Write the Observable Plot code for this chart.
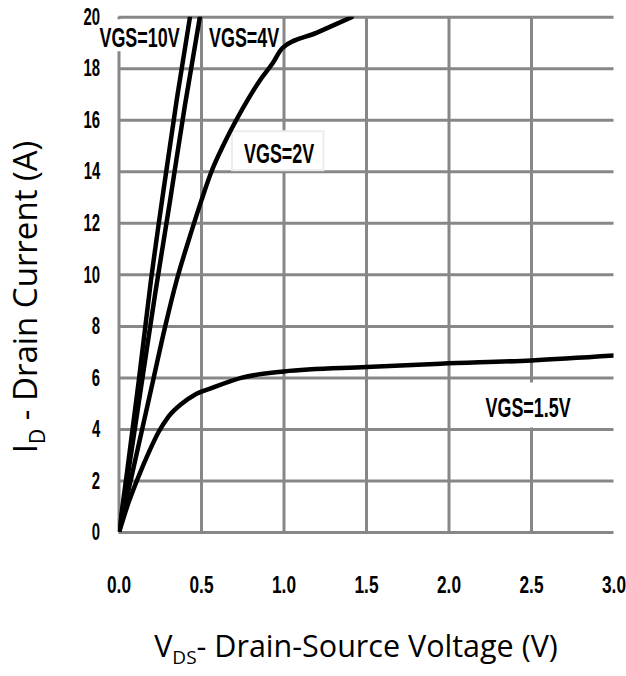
<!DOCTYPE html>
<html>
<head>
<meta charset="utf-8">
<script src="https://cdn.jsdelivr.net/npm/d3@7"></script>
<script src="https://cdn.jsdelivr.net/npm/@observablehq/plot@0.6"></script>
<style>
  html, body { margin: 0; padding: 0; background: #fff; }
  svg { display: block; }
</style>
</head>
<body>
<div id="chart"></div>
<script>
// Axis ticks
const vdsTicks = [0, 0.5, 1.0, 1.5, 2.0, 2.5, 3.0];
const idTicks = [0, 2, 4, 6, 8, 10, 12, 14, 16, 18, 20];

// Output characteristics, one pair of arrays per gate voltage (VDS in V, ID in A)
const vds10V = [0, 0.05, 0.12, 0.19, 0.27, 0.35, 0.43];
const id10V  = [0, 2.4, 5.9, 9.6, 13.3, 16.8, 20.0];

const vds4V = [0, 0.06, 0.14, 0.22, 0.31, 0.40, 0.49];
const id4V  = [0, 2.5, 5.9, 9.3, 12.9, 16.6, 20.0];

const vds2V = [0, 0.07, 0.14, 0.21, 0.28, 0.35, 0.43, 0.50, 0.56, 0.63, 0.71, 0.79, 0.86, 0.93, 0.99, 1.20, 1.41];
const id2V  = [0, 2.0, 4.0, 6.0, 8.0, 9.8, 11.5, 12.9, 14.0, 15.0, 16.0, 16.9, 17.6, 18.2, 18.8, 19.4, 20.0];

const vds15V = [0, 0.06, 0.12, 0.18, 0.24, 0.30, 0.38, 0.46, 0.56, 0.74, 1.0, 1.5, 1.95, 2.5, 3.0];
const id15V  = [0, 1.2, 2.2, 3.1, 3.9, 4.5, 5.0, 5.35, 5.6, 6.0, 6.25, 6.42, 6.55, 6.68, 6.87];

// Curve labels
const labelText = ["VGS=10V", "VGS=4V", "VGS=2V", "VGS=1.5V"];
const labelVds  = [0.124, 0.758, 0.97, 2.479];
const labelId   = [19.18, 19.18, 14.68, 4.85];

const series = [
  ["10V", vds10V, id10V],
  ["4V", vds4V, id4V],
  ["2V", vds2V, id2V],
  ["1.5V", vds15V, id15V]
];
const curves = series.flatMap(([vgs, xs, ys]) => xs.map((v, i) => ({vgs, v, i: ys[i]})));
const labels = labelText.map((t, k) => ({t, v: labelVds[k], i: labelId[k]}));

const narrowFont = "'Liberation Sans', Arial, sans-serif";

const svg = Plot.plot({
  width: 626,
  height: 676,
  marginLeft: 118.5,
  marginRight: 12.5,
  marginTop: 16.7,
  marginBottom: 144,
  style: {fontFamily: narrowFont, background: "#fff", overflow: "visible"},
  x: {domain: [0, 3]},
  y: {domain: [0, 20]},
  marks: [
    Plot.ruleY(idTicks, {stroke: "#878787", strokeWidth: 3}),
    Plot.ruleX(vdsTicks.filter(d => d < 3), {stroke: "#878787", strokeWidth: 3}),
    Plot.line(curves, {x: "v", y: "i", z: "vgs", stroke: "#000", strokeWidth: 4.5, curve: "monotone-x", clip: true}),
    Plot.text(labels, {x: "v", y: "i", text: "t", fontSize: 28, fontWeight: "bold", fill: "#000", textAnchor: "middle"}),
    Plot.axisX({ticks: vdsTicks, tickFormat: d => d.toFixed(1), tickSize: 0, tickPadding: 43, fontSize: 24, label: null}),
    Plot.axisY({ticks: idTicks, tickFormat: d => String(d), tickSize: 0, tickPadding: 19, fontSize: 24, label: null})
  ]
});

document.getElementById("chart").appendChild(svg);

// Squeeze narrow labels horizontally about their anchor point
function squeeze(t, s) {
  const b = t.getBBox();
  const anchor = getComputedStyle(t).textAnchor;
  const ax = anchor === "end" ? b.x + b.width : anchor === "middle" ? b.x + b.width / 2 : b.x;
  const prev = t.getAttribute("transform") || "";
  t.setAttribute("transform", `${prev} translate(${ax},0) scale(${s},1) translate(${-ax},0)`);
}
const xTickTexts = svg.querySelectorAll('g[aria-label="x-axis tick label"] text');
const yTickTexts = svg.querySelectorAll('g[aria-label="y-axis tick label"] text');
[...xTickTexts, ...yTickTexts].forEach(t => { t.style.fontSize = "24px"; t.style.fontWeight = "bold"; });
xTickTexts.forEach(t => squeeze(t, 0.72));
yTickTexts.forEach(t => squeeze(t, 0.62));

const labelGroup = [...svg.querySelectorAll('g[aria-label="text"]')].pop();
const labelTexts = labelGroup ? [...labelGroup.querySelectorAll("text")] : [];
labelTexts.forEach(t => squeeze(t, 0.64));

// White boxes behind the curve labels
const boxPad = {
  "VGS=10V":  {l: 2, r: 2, t: 3, b: -2, stroke: "none"},
  "VGS=4V":   {l: 2, r: 1, t: 3, b: -2, stroke: "none"},
  "VGS=2V":   {l: 12, r: 9, t: 7, b: 1, stroke: "#ececec"},
  "VGS=1.5V": {l: 4, r: 4, t: 9, b: 5, stroke: "none"}
};
const svgRect = svg.getBoundingClientRect();
const lineGroup = svg.querySelector('g[aria-label="line"]');
labelTexts.forEach(t => {
  const b = t.getBoundingClientRect();
  const p = boxPad[t.textContent] || {l: 2, r: 2, t: 2, b: 2, stroke: "none"};
  const r = document.createElementNS("http://www.w3.org/2000/svg", "rect");
  r.setAttribute("x", b.left - svgRect.left - p.l);
  r.setAttribute("y", b.top - svgRect.top - p.t);
  r.setAttribute("width", b.width + p.l + p.r);
  r.setAttribute("height", b.height + p.t + p.b);
  r.setAttribute("fill", "#fff");
  r.setAttribute("stroke", p.stroke);
  r.setAttribute("stroke-width", 2);
  svg.insertBefore(r, lineGroup);
});

// Axis titles with subscripts
const titleFont = "'Open Sans', 'Noto Sans', sans-serif";
const root = d3.select(svg);
const xTitle = root.append("text")
  .attr("x", 356).attr("y", 657)
  .attr("text-anchor", "middle")
  .style("font-family", titleFont).style("font-size", "30.5px").attr("fill", "#000");
xTitle.append("tspan").text("V");
xTitle.append("tspan").attr("dy", 7).style("font-size", "19px").text("DS");
xTitle.append("tspan").attr("dy", -7).text("- Drain-Source Voltage (V)");

const yTitle = root.append("text")
  .attr("transform", "translate(37,297) rotate(-90)")
  .attr("text-anchor", "middle")
  .style("font-family", titleFont).style("font-size", "33px").attr("fill", "#000");
yTitle.append("tspan").text("I");
yTitle.append("tspan").attr("dy", 8).style("font-size", "21px").text("D");
yTitle.append("tspan").attr("dy", -8).text(" - Drain Current (A)");
</script>
</body>
</html>
